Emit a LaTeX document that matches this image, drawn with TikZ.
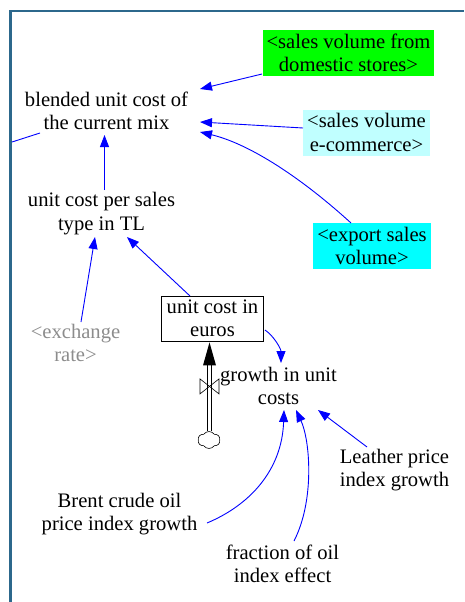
\documentclass[tikz,border=0pt]{standalone}
\usepackage{fontspec}
\setmainfont{Liberation Serif}
\usetikzlibrary{arrows.meta,calc,shapes.symbols}
\definecolor{framecol}{RGB}{44,104,140}
\definecolor{linkblue}{RGB}{0,0,255}
\definecolor{shadowgreen}{RGB}{0,255,0}
\definecolor{shadowpale}{RGB}{192,255,255}
\definecolor{shadowcyan}{RGB}{0,255,255}
\definecolor{ghosttext}{RGB}{140,140,140}
\begin{document}
\begin{tikzpicture}[x=1pt,y=-1pt,
  font=\rmfamily\fontsize{20.6}{23.5}\selectfont,
  lbl/.style={align=center,inner sep=0pt},
  shadowbox/.style={align=center,inner xsep=4pt,inner ysep=0pt,minimum height=46pt},
  stockbox/.style={draw=black,line width=0.8pt,align=center,inner xsep=5.5pt,inner ysep=0pt,minimum height=45pt},
  link/.style={draw=linkblue,line width=0.9pt,-{Triangle[length=12pt,width=9pt]}},
  plainlink/.style={draw=linkblue,line width=0.9pt},
  framestyle/.style={draw=framecol,line width=2.6pt},
  pipe/.style={draw=black,line width=0.8pt},
]
\useasboundingbox (0,0) rectangle (464,602);

% model frame
\draw[framestyle] (10.5,602) -- (10.5,11) -- (464,11);
\coordinate (lft) at (12,142);

% variables
\node[lbl] (blended) at (106.5,111) {blended unit cost of\\the current mix};
\node[shadowbox,fill=shadowgreen] (green) at (348.5,53) {<sales volume from\\domestic stores>};
\node[shadowbox,fill=shadowpale] (ecom) at (366.5,132.5) {<sales volume\\e-commerce>};
\node[shadowbox,fill=shadowcyan] (export) at (372,246) {<export sales\\volume>};
\node[lbl] (ucps) at (101.5,213.5) {unit cost per sales\\type in TL};
\node[lbl,text=ghosttext] (xrate) at (75.5,343) {<exchange\\rate>};
\node[stockbox] (euros) at (212.5,318.5) {unit cost in\\euros};
\node[lbl] (growth) at (278.5,386) {growth in unit\\costs};
\node[lbl] (leather) at (394.5,470) {Leather price\\index growth};
\node[lbl] (brent) at (119.5,514) {Brent crude oil\\price index growth};
\node[lbl] (oilfrac) at (282.5,564) {fraction of oil\\index effect};

% inflow: source cloud, pipe, valve and arrowhead into the stock
\node[cloud,draw=black,line width=0.6pt,cloud puffs=6,cloud puff arc=110,
      aspect=1.3,minimum width=22pt,minimum height=17pt,inner sep=0pt] (src) at (209,440) {};
\coordinate (stk) at ($(euros.south)+(-3,1)$);
\coordinate (pipeL) at ($(stk)+(-2.2,22)$);
\coordinate (pipeR) at ($(stk)+(2.2,22)$);
\draw[pipe] (pipeL) -- (pipeL |- src.north);
\draw[pipe] (pipeR) -- (pipeR |- src.north);
\fill[black] (stk) -- ($(stk)+(-6.5,23)$) -- ($(stk)+(6.5,23)$) -- cycle;
\coordinate (valve) at ($(stk)+(0,44)$);
\draw[black,line width=0.6pt] ($(valve)+(-9.5,-7.5)$) -- ($(valve)+(9.5,7.5)$)
   -- ($(valve)+(9.5,-7.5)$) -- ($(valve)+(-9.5,7.5)$) -- cycle;

% causal links
\draw[link] ($(green)+(-86.5,21)$) -- ($(blended)+(93.5,-22)$);
\draw[link] ($(ecom)+(-63.5,-4.5)$) -- ($(blended)+(93.5,11)$);
\draw[link] ($(export)+(-21,-23)$) .. controls +(-55,-50) and +(46,11) .. ($(blended)+(93.5,21)$);
\draw[link] ($(ucps)+(3,-23.5)$) -- ($(blended)+(-2,24)$);
\draw[plainlink] ($(blended)+(-66.5,22)$) -- (lft);
\draw[link] ($(xrate)+(5.5,-21)$) -- ($(ucps)+(-6.5,23.5)$);
\draw[link] ($(euros)+(-22.5,-22.5)$) -- ($(ucps)+(25.5,23.5)$);
\draw[link] ($(euros)+(52.5,11.5)$) .. controls +(9,6) and +(0,-14) .. ($(growth)+(2.5,-23)$);
\draw[link] ($(brent)+(87.5,9)$) .. controls +(43,-18) and +(-2,60) .. ($(growth)+(5.5,24)$);
\draw[link] ($(oilfrac)+(11.5,-23)$) .. controls +(21,-41) and +(14,30) .. ($(growth)+(17.5,24)$);
\draw[link] ($(leather)+(-27.5,-23)$) -- ($(growth)+(39.5,24)$);
\end{tikzpicture}
\end{document}
